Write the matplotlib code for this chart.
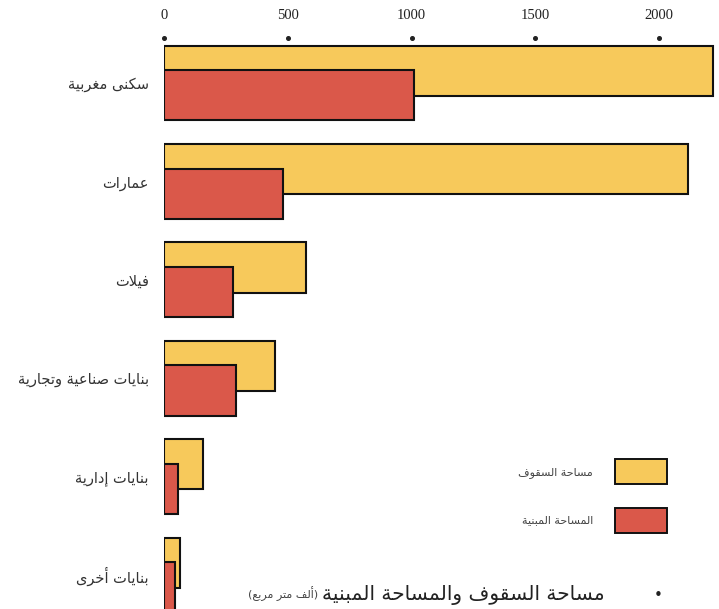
import matplotlib
matplotlib.use("Agg")
import matplotlib.pyplot as plt
from matplotlib.patches import Patch
from matplotlib.transforms import blended_transform_factory
import numpy as np

# ---------------- data ----------------
categories = ["سكنى مغربية", "عمارات", "فيلات", "بنايات صناعية وتجارية", "بنايات إدارية", "بنايات أخرى"]
roof_area = [2218, 2117, 574, 448, 158, 65]      # مساحة السقوف
built_area = [1010, 481, 279, 291, 57, 44]       # المساحة المبنية
series_labels = ["مساحة السقوف", "المساحة المبنية"]
xticks = [0, 500, 1000, 1500, 2000]
title_main = "مساحة السقوف والمساحة المبنية"
title_unit = "(ألف متر مربع)"

# ---------------- simple Arabic shaping ----------------
FORMS = {
    '\u0627': ('\uFE8D', '\uFE8E', None, None),
    '\u0623': ('\uFE83', '\uFE84', None, None),
    '\u0625': ('\uFE87', '\uFE88', None, None),
    '\u0628': ('\uFE8F', '\uFE90', '\uFE91', '\uFE92'),
    '\u0629': ('\uFE93', '\uFE94', None, None),
    '\u062A': ('\uFE95', '\uFE96', '\uFE97', '\uFE98'),
    '\u062C': ('\uFE9D', '\uFE9E', '\uFE9F', '\uFEA0'),
    '\u062D': ('\uFEA1', '\uFEA2', '\uFEA3', '\uFEA4'),
    '\u062E': ('\uFEA5', '\uFEA6', '\uFEA7', '\uFEA8'),
    '\u062F': ('\uFEA9', '\uFEAA', None, None),
    '\u0631': ('\uFEAD', '\uFEAE', None, None),
    '\u0633': ('\uFEB1', '\uFEB2', '\uFEB3', '\uFEB4'),
    '\u0635': ('\uFEB9', '\uFEBA', '\uFEBB', '\uFEBC'),
    '\u0639': ('\uFEC9', '\uFECA', '\uFECB', '\uFECC'),
    '\u063A': ('\uFECD', '\uFECE', '\uFECF', '\uFED0'),
    '\u0641': ('\uFED1', '\uFED2', '\uFED3', '\uFED4'),
    '\u0642': ('\uFED5', '\uFED6', '\uFED7', '\uFED8'),
    '\u0643': ('\uFED9', '\uFEDA', '\uFEDB', '\uFEDC'),
    '\u0644': ('\uFEDD', '\uFEDE', '\uFEDF', '\uFEE0'),
    '\u0645': ('\uFEE1', '\uFEE2', '\uFEE3', '\uFEE4'),
    '\u0646': ('\uFEE5', '\uFEE6', '\uFEE7', '\uFEE8'),
    '\u0647': ('\uFEE9', '\uFEEA', '\uFEEB', '\uFEEC'),
    '\u0648': ('\uFEED', '\uFEEE', None, None),
    '\u0649': ('\uFEEF', '\uFEF0', None, None),
    '\u064A': ('\uFEF1', '\uFEF2', '\uFEF3', '\uFEF4'),
}
LAM_ALEF = {'\u0627': ('\uFEFB', '\uFEFC'),
            '\u0623': ('\uFEF7', '\uFEF8'),
            '\u0625': ('\uFEF9', '\uFEFA')}


def shape(text):
    chars = list(text)
    n = len(chars)

    def joins_fwd(c):
        return c in FORMS and FORMS[c][2] is not None

    res = []
    i = 0
    while i < n:
        c = chars[i]
        prev = chars[i - 1] if i > 0 else None
        connect_prev = prev is not None and joins_fwd(prev)
        if c == '\u0644' and i + 1 < n and chars[i + 1] in LAM_ALEF:
            iso, fin = LAM_ALEF[chars[i + 1]]
            res.append(fin if connect_prev else iso)
            i += 2
            continue
        if c in FORMS:
            iso, fin, ini, med = FORMS[c]
            nxt = chars[i + 1] if i + 1 < n else None
            connect_next = ini is not None and nxt is not None and nxt in FORMS
            if connect_prev and connect_next:
                res.append(med)
            elif connect_prev:
                res.append(fin)
            elif connect_next:
                res.append(ini)
            else:
                res.append(iso)
        else:
            res.append(c)
        i += 1
    s = ''.join(res)[::-1]
    return s.translate(str.maketrans('()', ')('))


# ---------------- figure ----------------
W, H = 719, 609
fig = plt.figure(figsize=(W / 100, H / 100), dpi=100)
fig.patch.set_facecolor("white")

ax_left, ax_top, ax_right, ax_bottom = 164, 40, 718, 609
ax = fig.add_axes([ax_left / W, 1 - ax_bottom / H, (ax_right - ax_left) / W, (ax_bottom - ax_top) / H])

yellow = "#F7C95B"
red = "#DA584A"
edge = "#111111"

y = np.arange(len(categories))
bh = 0.51
ax.barh(y - 0.125, roof_area, height=bh, color=yellow, edgecolor=edge, linewidth=1.5, zorder=2)
ax.barh(y + 0.125, built_area, height=bh, color=red, edgecolor=edge, linewidth=1.5, zorder=3)

px_per_unit = 495 / 2000
ax.set_xlim(0, (ax_right - ax_left) / px_per_unit)
ax.set_ylim(5.345, -0.437)

for s in ax.spines.values():
    s.set_visible(False)

ax.xaxis.tick_top()
ax.set_xticks(xticks)
ax.set_xticklabels([str(t) for t in xticks], family="Liberation Serif", fontsize=10.5, color="#222222")
ax.tick_params(axis="x", length=0, pad=13)

trans = blended_transform_factory(ax.transData, ax.transAxes)
ax.plot(xticks, [1 + 2 / (ax_bottom - ax_top)] * len(xticks), "o", color="#222222", markersize=2.6,
        transform=trans, clip_on=False)

ax.set_yticks(y)
ax.set_yticklabels([shape(c) for c in categories], family="DejaVu Sans", fontsize=10.5, color="#333333")
ax.tick_params(axis="y", length=0, pad=11)

# legend
handles = [Patch(facecolor=yellow, edgecolor=edge, linewidth=1.4),
           Patch(facecolor=red, edgecolor=edge, linewidth=1.4)]
fs = 8
fpx = fs * 100 / 72
leg = fig.legend(handles, [shape(s) for s in series_labels], loc="upper right",
                 bbox_to_anchor=(667 / W, 1 - 459 / H), frameon=False, markerfirst=False,
                 prop={"family": "DejaVu Sans", "size": fs}, borderpad=0,
                 handlelength=52 / fpx, handleheight=34 / fpx, labelspacing=24 / fpx,
                 handletextpad=22 / fpx, borderaxespad=0)
for t in leg.get_texts():
    t.set_color("#444444")

# title at bottom
fig.text(658 / W, 1 - 595 / H, "•", ha="center", va="center", fontsize=11, color="#222222")
fig.text(605 / W, 1 - 595 / H, shape(title_main), ha="right", va="center", fontsize=14.5,
         family="DejaVu Sans", color="#222222")
fig.text(318 / W, 1 - 594 / H, shape(title_unit), ha="right", va="center", fontsize=8,
         family="DejaVu Sans", color="#444444")

fig.savefig("out.png", dpi=100)
